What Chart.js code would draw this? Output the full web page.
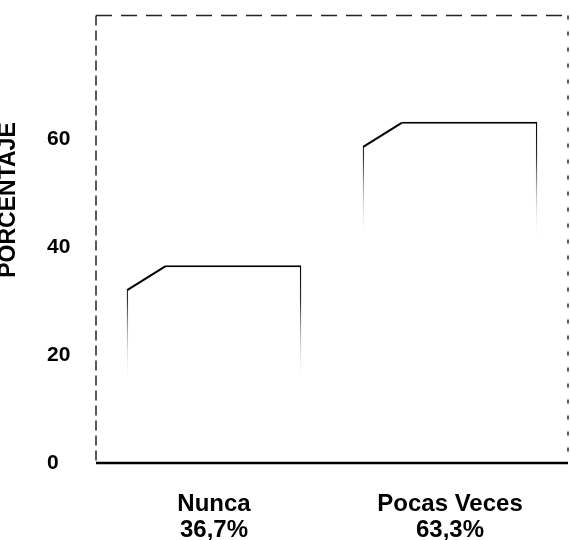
<!DOCTYPE html>
<html>
<head>
<meta charset="utf-8">
<script src="https://cdn.jsdelivr.net/npm/chart.js@4/dist/chart.umd.min.js"></script>
<style>
  html, body { margin: 0; padding: 0; background: #fff; }
  #wrap { width: 570px; height: 540px; }
</style>
</head>
<body>
<div id="wrap"><canvas id="chart" width="570" height="540"></canvas></div>
<script>
// Data
const categories = ['Nunca', 'Pocas Veces'];
const percentLabels = ['36,7%', '63,3%'];
const values = [36.7, 63.3];
const yTicks = [0, 20, 40, 60];
const yTitle = 'PORCENTAJE';

const FONT = "'Liberation Sans', Arial, sans-serif";

// side lines fade out towards the base, like the scan
function fadeBorder(ctx) {
  const chart = ctx.chart;
  if (!chart.chartArea || ctx.dataIndex === undefined) return '#000';
  const top = chart.scales.y.getPixelForValue(values[ctx.dataIndex]);
  const g = chart.ctx.createLinearGradient(0, top, 0, top + 120);
  g.addColorStop(0, '#000');
  g.addColorStop(0.3, '#333');
  g.addColorStop(1, 'rgba(255,255,255,0)');
  return g;
}

// cut the top-left corner of each bar (3D bevel look)
const bevel = {
  id: 'bevel',
  afterDatasetsDraw(chart) {
    const c = chart.ctx;
    const cw = 39, ch = 25;
    chart.getDatasetMeta(0).data.forEach((bar) => {
      const left = bar.x - bar.width / 2;
      const top = bar.y;
      c.save();
      c.fillStyle = '#fff';
      c.beginPath();
      c.moveTo(left - 2, top - 3);
      c.lineTo(left + cw, top - 3);
      c.lineTo(left + cw, top + 1);
      c.lineTo(left + 1, top + ch);
      c.lineTo(left - 2, top + ch);
      c.closePath();
      c.fill();
      c.strokeStyle = '#000';
      c.lineWidth = 2;
      c.beginPath();
      c.moveTo(left + 0.5, top + ch);
      c.lineTo(left + cw, top + 1);
      c.stroke();
      c.restore();
    });
  },
};

// plot frame: dashed left/top/right, solid base, plus rotated y title
const frame = {
  id: 'frame',
  afterDraw(chart) {
    const c = chart.ctx;
    const a = chart.chartArea;
    c.save();
    c.strokeStyle = '#222';
    c.lineWidth = 1.5;
    c.setLineDash([16, 9]);
    c.beginPath();
    c.moveTo(a.left, a.top);
    c.lineTo(a.right, a.top);
    c.stroke();
    c.setLineDash([10, 5]);
    c.beginPath();
    c.moveTo(a.left, a.top);
    c.lineTo(a.left, a.bottom);
    c.stroke();
    c.setLineDash([4, 12]);
    c.beginPath();
    c.moveTo(a.right, a.top);
    c.lineTo(a.right, a.bottom);
    c.stroke();
    c.setLineDash([]);
    c.strokeStyle = '#000';
    c.lineWidth = 2.5;
    c.beginPath();
    c.moveTo(a.left, a.bottom);
    c.lineTo(a.right, a.bottom);
    c.stroke();
    c.restore();

    c.save();
    c.translate(15, 200);
    c.rotate(-Math.PI / 2);
    c.font = 'bold 23px ' + FONT;
    c.fillStyle = '#000';
    c.textAlign = 'center';
    c.textBaseline = 'alphabetic';
    c.fillText(yTitle, 0, 0);
    c.restore();
  },
};

new Chart(document.getElementById('chart'), {
  type: 'bar',
  data: {
    labels: categories.map((cat, i) => [cat, percentLabels[i]]),
    datasets: [{
      data: values,
      backgroundColor: '#fff',
      borderColor: fadeBorder,
      borderWidth: { top: 2, left: 1.5, right: 1.5, bottom: 0 },
      borderSkipped: false,
      barPercentage: 0.74,
      categoryPercentage: 1,
    }],
  },
  options: {
    responsive: false,
    animation: false,
    layout: { padding: { left: 47, top: 8, right: 2, bottom: 0 } },
    plugins: {
      legend: { display: false },
      tooltip: { enabled: false },
    },
    scales: {
      x: {
        grid: { display: false, drawTicks: false },
        border: { display: false },
        ticks: {
          color: '#000',
          padding: 28,
          font: { family: FONT, size: 24, weight: 'bold', lineHeight: 1.08 },
        },
        afterFit(axis) { axis.height = 77; },
      },
      y: {
        min: 0,
        max: 83,
        grid: { display: false, drawTicks: false },
        border: { display: false },
        afterBuildTicks(axis) { axis.ticks = yTicks.map((v) => ({ value: v })); },
        ticks: {
          color: '#000',
          crossAlign: 'far',
          font: { family: FONT, size: 21, weight: 'bold' },
        },
        afterFit(axis) { axis.width = 49; },
      },
    },
  },
  plugins: [bevel, frame],
});
</script>
</body>
</html>
